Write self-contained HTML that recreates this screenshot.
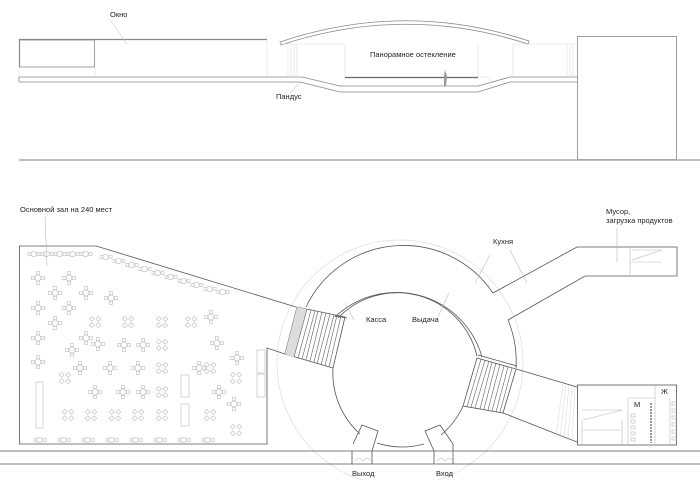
<!DOCTYPE html>
<html><head><meta charset="utf-8"><style>
html,body{margin:0;padding:0;background:#fff}
svg{display:block}
text{font-family:"Liberation Sans",sans-serif;font-size:7.5px;fill:#222}
</style></head><body>
<svg width="700" height="480" viewBox="0 0 700 480" xmlns="http://www.w3.org/2000/svg">
<defs>
<g id="rt" fill="none" stroke="#bbb" stroke-width="0.6">
<circle cx="0" cy="0" r="3"/>
<rect x="-1.5" y="-6.5" width="3" height="3"/><rect x="-1.5" y="3.5" width="3" height="3"/>
<rect x="-6.5" y="-1.5" width="3" height="3"/><rect x="3.5" y="-1.5" width="3" height="3"/>
</g>
<g id="xt" fill="none" stroke="#bbb" stroke-width="0.6">
<rect x="-5" y="-5" width="3.5" height="3.5" transform="rotate(45 -3.2 -3.2)"/>
<rect x="1.5" y="-5" width="3.5" height="3.5" transform="rotate(45 3.2 -3.2)"/>
<rect x="-5" y="1.5" width="3.5" height="3.5" transform="rotate(45 -3.2 3.2)"/>
<rect x="1.5" y="1.5" width="3.5" height="3.5" transform="rotate(45 3.2 3.2)"/>
</g>
<g id="pr" fill="none" stroke="#bbb" stroke-width="0.6">
<rect x="-4" y="-1.5" width="3" height="3"/><circle cx="1.5" cy="0" r="2.8"/><rect x="5" y="-1.5" width="3" height="3"/>
</g>
</defs>

<!-- ELEVATION -->
<g fill="none" stroke="#888" stroke-width="0.8">
<line x1="19" y1="39.5" x2="267" y2="39.5" stroke-width="1.2"/>
<rect x="19.5" y="40" width="75" height="27" />
<line x1="19.5" y1="39" x2="19.5" y2="67" stroke-width="1.2"/>
<path d="M19 77 H302 L340 86 H478 L510 77 H577 M19 82 H300 L340 92 H478 L510 82 H577" />
<line x1="19" y1="77" x2="19" y2="82"/>
<path d="M280 42 Q405 0 529 41 L528 44 Q405 4 281 45 Z"/>
<rect x="577.5" y="36.5" width="99" height="123"/>
<line x1="345" y1="77.5" x2="478" y2="77.5" stroke="#666" stroke-width="1.3"/>
</g>
<g stroke="#ddd" stroke-width="0.6">
<line x1="19" y1="67" x2="19" y2="77"/><line x1="95" y1="67" x2="95" y2="77"/>
<line x1="267" y1="40" x2="267" y2="77"/><line x1="280" y1="44" x2="345" y2="44"/>
<line x1="345" y1="44" x2="345" y2="77"/><line x1="478" y1="44" x2="478" y2="77"/>
<line x1="513" y1="44" x2="513" y2="77"/><line x1="513" y1="44" x2="577" y2="44"/>
<line x1="288" y1="44" x2="288" y2="77"/><line x1="291" y1="44" x2="291" y2="77"/><line x1="294" y1="44" x2="294" y2="77"/><line x1="297" y1="44" x2="297" y2="77"/>
<line x1="567" y1="44" x2="567" y2="77"/><line x1="570" y1="44" x2="570" y2="77"/><line x1="573" y1="44" x2="573" y2="77"/>
<line x1="480" y1="77" x2="490" y2="77"/><line x1="490" y1="77" x2="490" y2="86"/>
<line x1="110" y1="20" x2="127" y2="44" stroke="#ccc"/>
<line x1="300" y1="83" x2="290" y2="93" stroke="#ccc"/>
</g>
<path d="M444 86 L444 76 L445 70 L447 76 L446 86 Z" fill="#999"/>
<line x1="19" y1="160" x2="700" y2="160" stroke="#aaa" stroke-width="1.5"/>
<text x="110" y="17">Окно</text>
<text x="276" y="99">Пандус</text>
<text x="370" y="57">Панорамное остекление</text>

<!-- PLAN -->
<circle cx="400" cy="363" r="123" fill="none" stroke="#ddd" stroke-width="0.7"/>
<g fill="none" stroke="#555" stroke-width="0.8">
<path d="M296 307 L96 246 H19.5 V444 H267 V348 L285 354"/>
<path d="M306 307 A108 108 0 0 1 493 293"/>
<path d="M508 320 A108 108 0 0 1 516 368"/>
<path d="M335 317 A89 89 0 0 1 482 357"/>
<path d="M333 368 A82 82 0 0 0 360 434 M377 443 A82 82 0 0 0 424 444 M441 435 A82 82 0 0 0 463 406"/>
<path d="M338 318 A82 82 0 0 1 477 356"/>
<path d="M493 293 L577 247 H677 V276 H585 L508 320"/>
<path d="M297 307 L345 317 L333 368 L285 354 Z M335 316 L347 318"/>
<path d="M477 358 L516 369 L503 413 L463 406 Z M478 355 L517 366"/>
<path d="M516 369 L577 387 M503 413 L577 442"/>
<rect x="577.5" y="385" width="99" height="60"/>
<path d="M353 444 L362 425 L378 431 L372 451 M352 451 V464 M372 451 V464"/>
<path d="M434 451 L425 431 L440 425 L453 444 V464 M434 451 V464"/>
</g>
<polygon points="297,307 307,309 294,357 285,354" fill="#ddd"/>
<g stroke="#666" stroke-width="0.6">
<line x1="307" y1="309" x2="294" y2="357"/><line x1="311" y1="310" x2="298" y2="358"/><line x1="315" y1="311" x2="302" y2="359"/><line x1="318" y1="311" x2="306" y2="360"/><line x1="322" y1="312" x2="310" y2="361"/><line x1="326" y1="313" x2="314" y2="362"/><line x1="330" y1="314" x2="317" y2="364"/><line x1="334" y1="315" x2="321" y2="365"/><line x1="337" y1="315" x2="325" y2="366"/><line x1="341" y1="316" x2="329" y2="367"/>
<line x1="481" y1="359" x2="467" y2="407"/><line x1="485" y1="360" x2="471" y2="407"/><line x1="489" y1="361" x2="475" y2="408"/><line x1="492" y1="362" x2="480" y2="409"/><line x1="496" y1="363" x2="484" y2="409"/><line x1="500" y1="364" x2="488" y2="410"/><line x1="504" y1="366" x2="492" y2="411"/><line x1="508" y1="367" x2="496" y2="412"/><line x1="512" y1="368" x2="500" y2="412"/>
</g>
<g stroke="#ccc" stroke-width="0.4">
<line x1="563" y1="383" x2="556" y2="437"/><line x1="566" y1="384" x2="560" y2="438"/><line x1="569" y1="385" x2="564" y2="439"/><line x1="572" y1="386" x2="568" y2="440"/><line x1="575" y1="387" x2="572" y2="441"/>
</g>
<line x1="0" y1="451" x2="700" y2="451" stroke="#555" stroke-width="0.8"/>
<line x1="0" y1="464" x2="700" y2="464" stroke="#555" stroke-width="0.8"/>
<g fill="none" stroke="#bbb" stroke-width="0.6">
<path d="M355 461 q4 -5 8 0 q4 -5 8 0 M437 461 q4 -5 8 0 q4 -5 8 0"/>
<line x1="475" y1="283" x2="490" y2="255"/><line x1="527" y1="283" x2="510" y2="250"/>
<line x1="354" y1="320" x2="345" y2="303"/><line x1="438" y1="317" x2="449" y2="293"/>
<line x1="617" y1="228" x2="617" y2="262"/>
<line x1="45" y1="216" x2="47" y2="266"/>
<path d="M630 248 V276 M630 262 H662 M632 260 L662 250 M632 250 H662"/>
<path d="M582 430 H622 M582 420 V445 M622 420 V445 M583 420 L622 410 H582" />
<path d="M655 385 V445 M628 398 V445 M628 398 H655 M670 398 V445"/>
<rect x="631" y="414" width="4" height="3"/><rect x="631" y="420" width="4" height="3"/><rect x="631" y="426" width="4" height="3"/><rect x="631" y="432" width="4" height="3"/><rect x="631" y="438" width="4" height="3"/>
<rect x="672" y="402" width="4" height="3"/><rect x="672" y="409" width="4" height="3"/><rect x="672" y="416" width="4" height="3"/><rect x="672" y="423" width="4" height="3"/><rect x="672" y="430" width="4" height="3"/><rect x="672" y="437" width="4" height="3"/>
<line x1="651" y1="403" x2="651" y2="443" stroke="#999" stroke-dasharray="2 1" stroke-width="2"/>
<rect x="257" y="350" width="8" height="23"/><rect x="257" y="374" width="8" height="23"/>
<rect x="36" y="382" width="7" height="46"/>
<rect x="181" y="375" width="8" height="22"/><rect x="181" y="404" width="8" height="22"/>
</g>
<g>
<use href="#pr" x="32" y="254"/><use href="#pr" x="45" y="254"/><use href="#pr" x="58" y="254"/><use href="#pr" x="71" y="254"/><use href="#pr" x="84" y="254"/>
<use href="#pr" x="104" y="257"/><use href="#pr" x="117" y="261"/><use href="#pr" x="130" y="265"/><use href="#pr" x="143" y="269"/><use href="#pr" x="156" y="273"/><use href="#pr" x="169" y="277"/><use href="#pr" x="182" y="281"/><use href="#pr" x="195" y="285"/><use href="#pr" x="208" y="289"/><use href="#pr" x="221" y="292"/>
<use href="#pr" x="38" y="440"/><use href="#pr" x="62" y="440"/><use href="#pr" x="86" y="440"/><use href="#pr" x="110" y="440"/><use href="#pr" x="134" y="440"/><use href="#pr" x="158" y="440"/><use href="#pr" x="182" y="440"/><use href="#pr" x="206" y="440"/>
<use href="#rt" x="38" y="278"/><use href="#rt" x="69" y="278"/><use href="#rt" x="55" y="293"/><use href="#rt" x="86" y="293"/><use href="#rt" x="38" y="308"/><use href="#rt" x="69" y="308"/><use href="#rt" x="111" y="298"/>
<use href="#rt" x="55" y="323"/><use href="#rt" x="86" y="338"/><use href="#rt" x="38" y="338"/><use href="#rt" x="72" y="350"/><use href="#rt" x="38" y="362"/>
<use href="#rt" x="98" y="344"/><use href="#rt" x="124" y="345"/><use href="#rt" x="143" y="345"/><use href="#rt" x="80" y="368"/><use href="#rt" x="110" y="368"/><use href="#rt" x="138" y="368"/>
<use href="#rt" x="95" y="392"/><use href="#rt" x="123" y="392"/><use href="#rt" x="143" y="392"/><use href="#rt" x="199" y="368"/><use href="#rt" x="217" y="343"/><use href="#rt" x="219" y="392"/><use href="#rt" x="237" y="358"/><use href="#rt" x="234" y="404"/><use href="#rt" x="211" y="317"/>
<use href="#xt" x="95" y="322"/><use href="#xt" x="128" y="322"/><use href="#xt" x="162" y="322"/><use href="#xt" x="191" y="322"/>
<use href="#xt" x="162" y="345"/><use href="#xt" x="162" y="368"/><use href="#xt" x="162" y="392"/><use href="#xt" x="162" y="415"/><use href="#xt" x="65" y="378"/>
<use href="#xt" x="68" y="415"/><use href="#xt" x="91" y="415"/><use href="#xt" x="115" y="415"/><use href="#xt" x="138" y="415"/><use href="#xt" x="210" y="415"/><use href="#xt" x="210" y="368"/><use href="#xt" x="236" y="378"/><use href="#xt" x="236" y="430"/>
</g>
<text x="20" y="212">Основной зал на 240 мест</text>
<text x="493" y="244">Кухня</text>
<text x="606" y="214">Мусор,</text>
<text x="606" y="223">загрузка продуктов</text>
<text x="366" y="322">Касса</text>
<text x="412" y="322">Выдача</text>
<text x="634" y="407">М</text>
<text x="661" y="394">Ж</text>
<text x="352" y="476">Выход</text>
<text x="436" y="476">Вход</text>
</svg>
</body></html>
